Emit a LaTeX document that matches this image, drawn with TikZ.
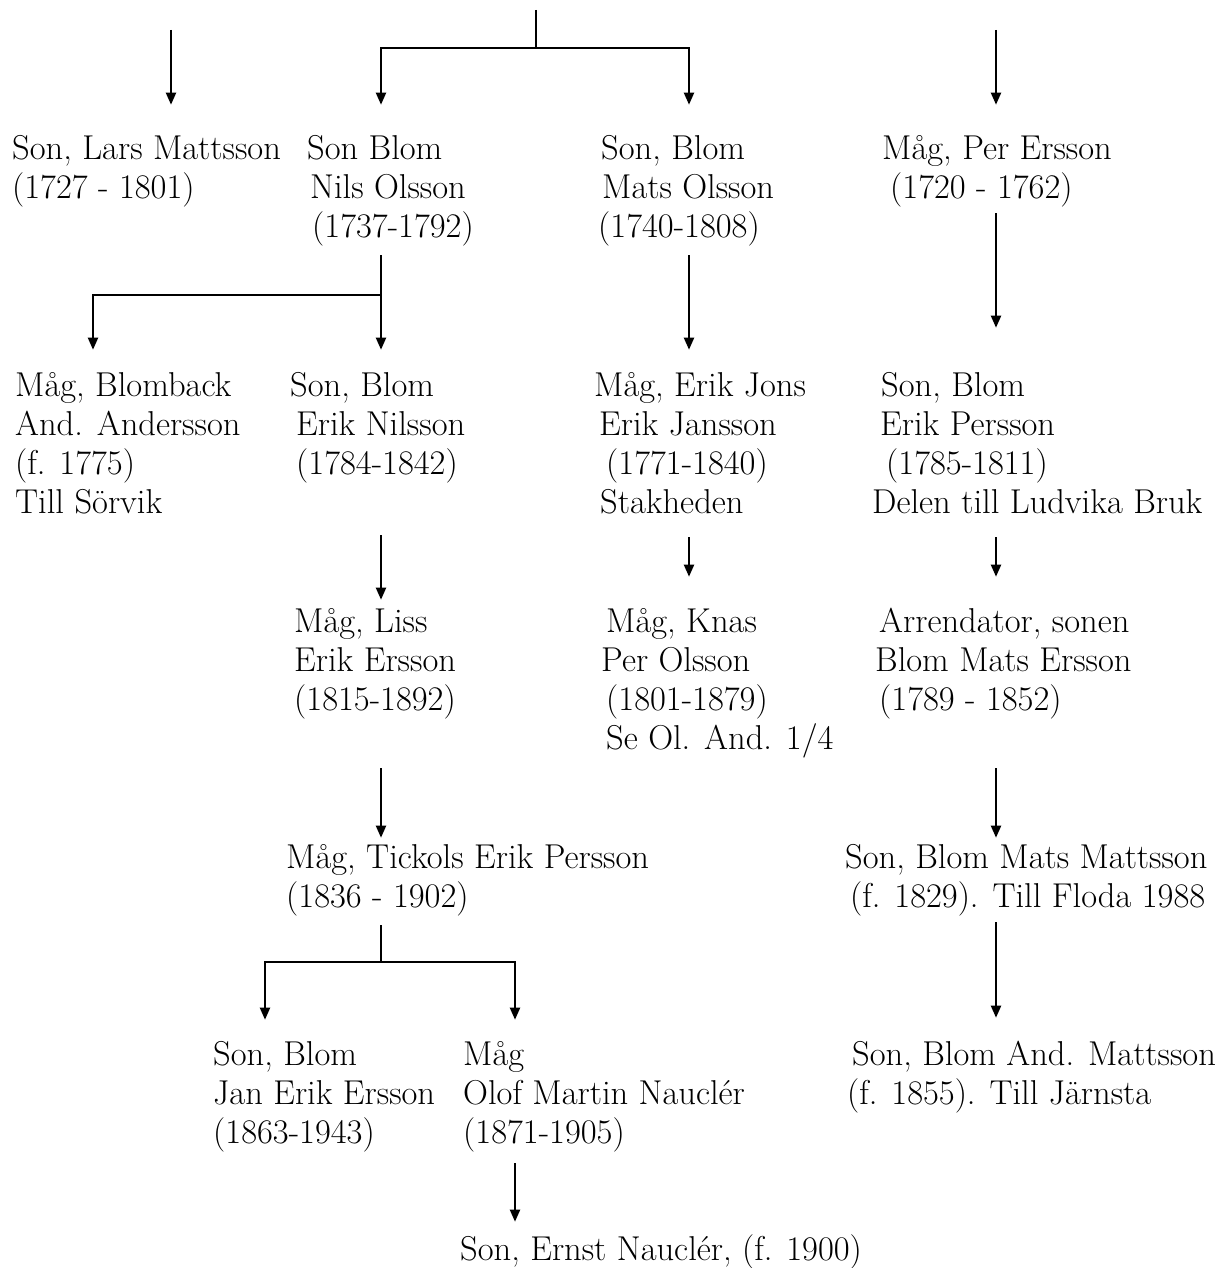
\documentclass[tikz,border=0pt]{standalone}
\usetikzlibrary{arrows.meta}
\tikzset{
  person/.style={anchor=north west, inner sep=0pt, align=left, font=\fontsize{34.5}{39}\selectfont},
  link/.style={line width=2pt},
  arw/.style={line width=2pt, -{Triangle[length=12pt,width=10pt]}},
}
\newcommand{\ind}[1]{\hspace*{#1pt}}
\begin{document}
\begin{tikzpicture}[x=1pt,y=-1pt]
\useasboundingbox (0,0) rectangle (1218,1268);
% row 1
\node[person] (lars) at (12,131.7) {\strut Son, Lars Mattsson\\\strut (1727 - 1801)};
\node[person] (nils) at (307,131.7) {\strut Son Blom\\\strut\ind{3}Nils Olsson\\\strut\ind{5}(1737-1792)};
\node[person] (mats) at (598,131.7) {\strut\ind{3}Son, Blom\\\strut\ind{4}Mats Olsson\\\strut (1740-1808)};
\node[person] (per) at (882,131.7) {\strut Måg, Per Ersson\\\strut\ind{8}(1720 - 1762)};
% row 2
\node[person] (blomback) at (15,368.7) {\strut Måg, Blomback\\\strut And. Andersson\\\strut (f. 1775)\\\strut Till Sörvik};
\node[person] (erikn) at (290,368.7) {\strut Son, Blom\\\strut\ind{6}Erik Nilsson\\\strut\ind{6}(1784-1842)};
\node[person] (erikj) at (594,368.7) {\strut Måg, Erik Jons\\\strut\ind{5}Erik Jansson\\\strut\ind{12}(1771-1840)\\\strut\ind{6}Stakheden};
\node[person] (erikp) at (872,368.7) {\strut\ind{9}Son, Blom\\\strut\ind{8}Erik Persson\\\strut\ind{14}(1785-1811)\\\strut Delen till Ludvika Bruk};
% row 3
\node[person] (liss) at (294,604.7) {\strut Måg, Liss\\\strut Erik Ersson\\\strut (1815-1892)};
\node[person] (knas) at (601,604.7) {\strut\ind{5}Måg, Knas\\\strut Per Olsson\\\strut\ind{5}(1801-1879)\\\strut\ind{5}Se Ol. And. 1/4};
\node[person] (arr) at (875,604.7) {\strut\ind{4}Arrendator, sonen\\\strut Blom Mats Ersson\\\strut\ind{4}(1789 - 1852)};
% row 4
\node[person] (tickols) at (286,840.7) {\strut Måg, Tickols Erik Persson\\\strut (1836 - 1902)};
\node[person] (matsm) at (845,840.7) {\strut Son, Blom Mats Mattsson\\\strut\ind{5}(f. 1829). Till Floda 1988};
% row 5
\node[person] (jan) at (213,1037.7) {\strut Son, Blom\\\strut Jan Erik Ersson\\\strut (1863-1943)};
\node[person] (olof) at (463,1037.7) {\strut Måg\\\strut Olof Martin Nauclér\\\strut (1871-1905)};
\node[person] (andm) at (847,1037.7) {\strut\ind{5}Son, Blom And. Mattsson\\\strut (f. 1855). Till Järnsta};
\node[person] (ernst) at (460,1232.7) {\strut Son, Ernst Nauclér, (f. 1900)};
% connectors
\coordinate (top) at (536,10);
\coordinate (j1) at (536,48);
\coordinate (lars-in) at (171,30);
\coordinate (per-in) at (996,30);
\draw[link] (top) -- (j1);
\draw[arw] (j1) -| ([yshift=27pt]nils.north -| 381,0);
\draw[arw] (j1) -| ([yshift=27pt]mats.north -| 689,0);
\draw[arw] (lars-in) -- ([yshift=27pt]lars.north -| lars-in);
\draw[arw] (per-in) -- ([yshift=27pt]per.north -| per-in);
% from Nils
\coordinate (j2) at (381,295);
\draw[link] ([yshift=-6pt]nils.south -| j2) -- (j2);
\draw[arw] (j2) -| ([yshift=19pt]blomback.north -| 93,0);
\draw[arw] (j2) -- ([yshift=19pt]erikn.north -| j2);
% from Mats, Per
\draw[arw] ([yshift=-6pt]mats.south -| 689,0) -- ([yshift=19pt]erikj.north -| 689,0);
\draw[arw] ([yshift=-3pt]per.south -| 996,0) -- ([yshift=41pt]erikp.north -| 996,0);
% row 2 -> row 3
\draw[arw] ([yshift=-49pt]erikn.south -| 381,0) -- ([yshift=5pt]liss.north -| 381,0);
\draw[arw] ([yshift=-12pt]erikj.south -| 689,0) -- ([yshift=28pt]knas.north -| 689,0);
\draw[arw] ([yshift=-12pt]erikp.south -| 996,0) -- ([yshift=28pt]arr.north -| 996,0);
% row 3 -> row 4
\draw[arw] ([yshift=-46pt]liss.south -| 381,0) -- ([yshift=3pt]tickols.north -| 381,0);
\draw[arw] ([yshift=-46pt]arr.south -| 996,0) -- ([yshift=3pt]matsm.north -| 996,0);
% from Tickols
\coordinate (j3) at (381,962);
\draw[link] ([yshift=-6pt]tickols.south -| j3) -- (j3);
\draw[arw] (j3) -| ([yshift=18pt]jan.north -| 265,0);
\draw[arw] (j3) -| ([yshift=18pt]olof.north -| 515,0);
% Mats Mattsson -> And. Mattsson
\draw[arw] ([yshift=-3pt]matsm.south -| 996,0) -- ([yshift=20pt]andm.north -| 996,0);
% Olof -> Ernst
\draw[arw] ([yshift=-8pt]olof.south -| 515,0) -- ([yshift=11pt]ernst.north -| 515,0);
\end{tikzpicture}
\end{document}
